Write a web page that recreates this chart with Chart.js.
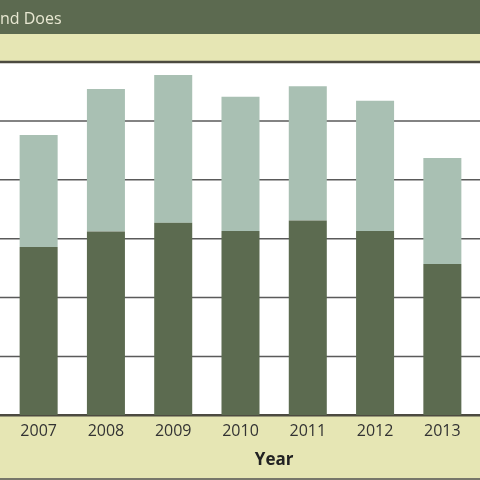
<!DOCTYPE html>
<html>
<head>
<meta charset="utf-8">
<script src="https://cdn.jsdelivr.net/npm/chart.js@4"></script>
<style>
  html, body { margin: 0; padding: 0; background: #fff; }
  #wrap { width: 480px; height: 480px; position: relative; }
</style>
</head>
<body>
<div id="wrap"><canvas id="chart"></canvas></div>
<script>
const years = ["2007", "2008", "2009", "2010", "2011", "2012", "2013"];
const lowerValues = [28.6, 31.2, 32.7, 31.3, 33.1, 31.3, 25.7];
const upperValues = [19.0, 24.2, 25.1, 22.8, 22.8, 22.1, 18.0];
const yTicks = [0, 10, 20, 30, 40, 50, 60];
const titleText = "nd Does";
const xTitle = "Year";

// header bands, full-width grid lines and the axis title
const framePlugin = {
  id: "frame",
  beforeDraw(chart) {
    const { ctx, width, height, chartArea } = chart;
    ctx.save();
    ctx.fillStyle = "#ffffff";
    ctx.fillRect(0, 0, width, height);
    ctx.fillStyle = "#5c6a50";
    ctx.fillRect(0, 0, width, 34);
    ctx.fillStyle = "#e6e6b4";
    ctx.fillRect(0, 34, width, chartArea.top - 34);
    ctx.fillRect(0, chartArea.bottom, width, height - chartArea.bottom - 2);
    ctx.fillStyle = "#77776a";
    ctx.fillRect(0, height - 2, width, 2);
    ctx.fillStyle = "#e8e8d2";
    ctx.font = "16px 'Open Sans'";
    ctx.textBaseline = "alphabetic";
    ctx.fillText(titleText, 0, 24);
    ctx.restore();
  },
  beforeDatasetsDraw(chart) {
    const { ctx, width } = chart;
    const y = chart.scales.y;
    ctx.save();
    y.ticks.forEach((t, i) => {
      const py = y.getPixelForValue(t.value);
      const edge = i === 0 || i === y.ticks.length - 1;
      ctx.strokeStyle = edge ? "#4c4a40" : "#5a5a5a";
      ctx.lineWidth = edge ? 2.5 : 1.5;
      ctx.beginPath();
      ctx.moveTo(0, py);
      ctx.lineTo(width, py);
      ctx.stroke();
    });
    ctx.restore();
  },
  afterDraw(chart) {
    const { ctx } = chart;
    const x = chart.scales.x;
    ctx.save();
    ctx.fillStyle = "#222";
    ctx.font = "bold 17px 'Open Sans'";
    ctx.textAlign = "center";
    ctx.textBaseline = "middle";
    ctx.fillText(xTitle, (x.getPixelForValue(3) + x.getPixelForValue(4)) / 2, 460);
    ctx.restore();
  },
};

new Chart(document.getElementById("chart"), {
  type: "bar",
  data: {
    labels: years,
    datasets: [
      {
        label: "lower",
        data: lowerValues,
        backgroundColor: "#5c6b50",
        borderWidth: 0,
      },
      {
        label: "upper",
        data: upperValues,
        backgroundColor: "#a9c0b3",
        borderWidth: 0,
      },
    ],
  },
  options: {
    responsive: true,
    maintainAspectRatio: false,
    animation: false,
    layout: {
      padding: { top: 62, left: 5, right: 4, bottom: 31.5 },
    },
    plugins: {
      legend: { display: false },
      tooltip: { enabled: false },
    },
    datasets: {
      bar: {
        categoryPercentage: 1,
        barPercentage: 0.565,
      },
    },
    scales: {
      x: {
        stacked: true,
        grid: { display: false, drawTicks: false },
        border: { display: false },
        ticks: {
          color: "#333",
          padding: 7,
          font: { family: "'Open Sans'", size: 16 },
        },
      },
      y: {
        stacked: true,
        display: false,
        min: yTicks[0],
        max: yTicks[yTicks.length - 1],
        ticks: { stepSize: yTicks[1] - yTicks[0] },
      },
    },
  },
  plugins: [framePlugin],
});
</script>
</body>
</html>
